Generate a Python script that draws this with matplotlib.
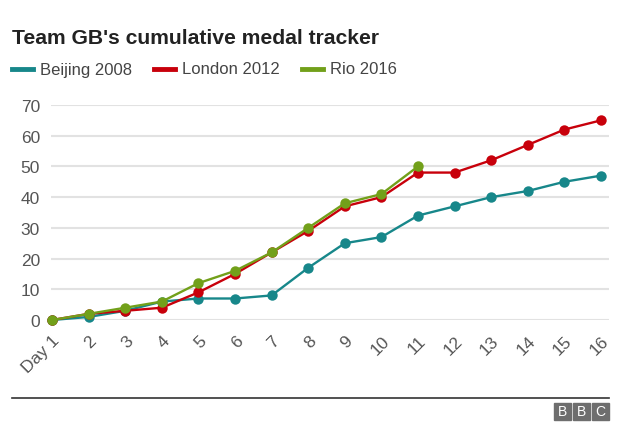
import matplotlib
matplotlib.use("Agg")
import matplotlib.pyplot as plt
from matplotlib.patches import Rectangle
from matplotlib.lines import Line2D

plt.rcParams['font.family'] = ['Liberation Sans', 'DejaVu Sans']

days = list(range(1, 17))
day_labels = ["Day 1"] + [str(d) for d in range(2, 17)]
beijing = [0, 1, 3, 6, 7, 7, 8, 17, 25, 27, 34, 37, 40, 42, 45, 47]
london = [0, 2, 3, 4, 9, 15, 22, 29, 37, 40, 48, 48, 52, 57, 62, 65]
rio = [0, 2, 4, 6, 12, 16, 22, 30, 38, 41, 50]
series_names = ["Beijing 2008", "London 2012", "Rio 2016"]
colors = ["#17878a", "#c8000b", "#72a01a"]
yticks = [0, 10, 20, 30, 40, 50, 60, 70]

W, H = 640, 431
fig = plt.figure(figsize=(W / 100, H / 100), dpi=100)
ax = fig.add_axes([51 / W, (H - 321) / H, 558 / W, 215 / H])

for vals, c in zip([beijing, london, rio], colors):
    ax.plot(days[:len(vals)], vals, color=c, lw=1.7, marker='o', ms=7.5,
            markeredgewidth=0, clip_on=False, zorder=3)

ax.set_xlim(0.97, 16.22)
ax.set_ylim(0, 70)
ax.set_yticks(yticks)
ax.set_yticklabels([str(v) for v in yticks])
ax.set_xticks(days)
ax.set_xticklabels(day_labels, rotation=45, ha='right', rotation_mode='anchor')
ax.tick_params(axis='both', length=0, labelcolor='#555555', labelsize=12.5)
ax.tick_params(axis='x', pad=9)
ax.tick_params(axis='y', pad=8)
for s in ax.spines.values():
    s.set_visible(False)
ax.grid(axis='y', color='#e2e2e2', lw=1.5)
ax.set_axisbelow(True)

fig.text(12 / W, 1 - 38 / H, "Team GB's cumulative medal tracker", fontsize=15.2,
         fontweight='bold', color='#222222', va='center', ha='left')

leg_x = [11.5, 154, 302]
for x0, name, c in zip(leg_x, series_names, colors):
    fig.add_artist(Line2D([x0 / W, (x0 + 21) / W], [1 - 70 / H] * 2, color=c, lw=3.5,
                          transform=fig.transFigure))
    fig.text((x0 + 28.5) / W, 1 - 70 / H, name, fontsize=12, color='#444444',
             va='center', ha='left')

fig.add_artist(Line2D([11.5 / W, 609 / W], [1 - 398.5 / H] * 2, color='#333333', lw=1.2,
                      transform=fig.transFigure))
for i, letter in enumerate("BBC"):
    x0 = 554 + i * 19
    fig.add_artist(Rectangle((x0 / W, 1 - 421 / H), 17 / W, 17 / H, color='#6e6e6e',
                             transform=fig.transFigure))
    fig.text((x0 + 8.5) / W, 1 - 412.5 / H, letter, fontsize=10, color='white',
             ha='center', va='center')

fig.savefig("out.png", dpi=100, facecolor='white')
